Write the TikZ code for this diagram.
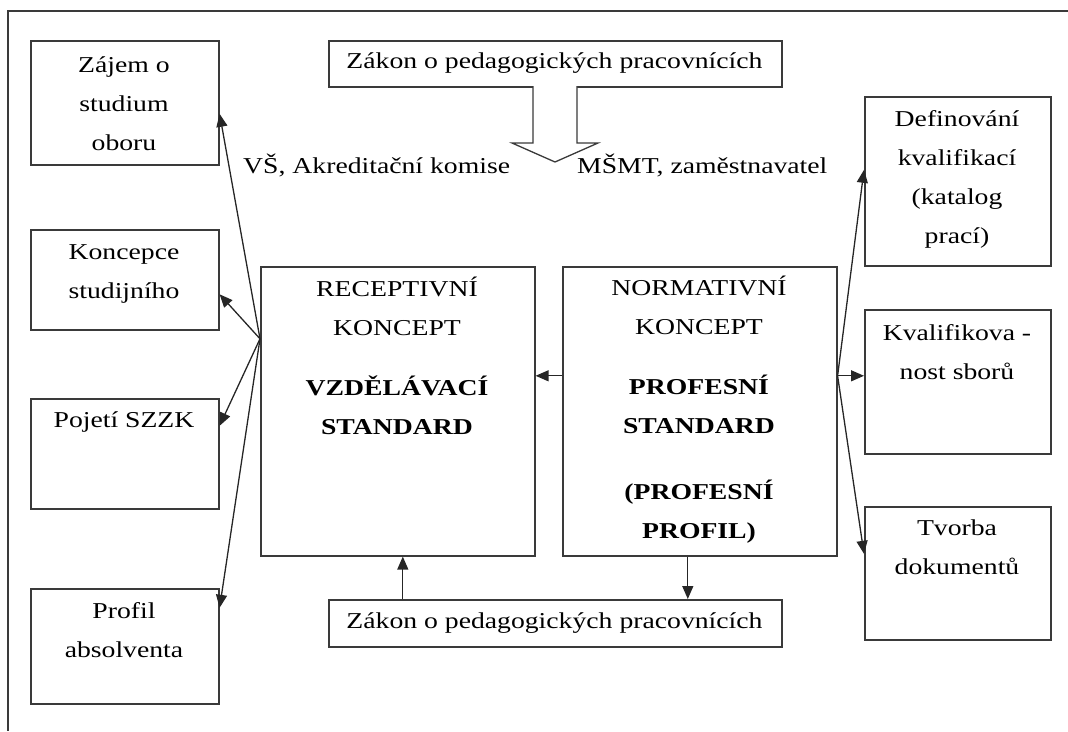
\documentclass[tikz,border=0pt]{standalone}
\usepackage{fontspec}
\setmainfont[FakeStretch=1.22]{Liberation Serif}
\usetikzlibrary{arrows.meta}
\definecolor{linegray}{HTML}{3A3A3A}
\begin{document}
\begin{tikzpicture}[x=1pt,y=-1pt,
  box/.style={draw=linegray, line width=1.6pt, rectangle, inner sep=0pt, anchor=north west},
  txt/.style={inner sep=0pt, align=center, text=black, font=\fontsize{22.7}{39}\selectfont},
  arr/.style={draw=black!85, line width=1.3pt, -{Triangle[length=13pt,width=11pt]}}]
\useasboundingbox (0,0) rectangle (1068,731);

% outer frame (top and left sides)
\draw[draw=linegray, line width=1.6pt] (1068,11) -- (8,11) -- (8,731);

% left column
\node[box, minimum width=188pt, minimum height=124pt] (zajem) at (30,40) {};
\node[box, minimum width=188pt, minimum height=100pt] (koncepce) at (30,229) {};
\node[box, minimum width=188pt, minimum height=110pt] (pojeti) at (30,398) {};
\node[box, minimum width=188pt, minimum height=115pt] (profil) at (30,588) {};

% central blocks
\node[box, minimum width=274pt, minimum height=289pt] (recept) at (260,266) {};
\node[box, minimum width=274pt, minimum height=289pt] (normat) at (562,266) {};

% law boxes
\node[box, minimum width=453pt, minimum height=46pt] (zakonTop) at (328,40) {};
\node[box, minimum width=453pt, minimum height=47pt] (zakonBot) at (328,599) {};

% right column
\node[box, minimum width=186pt, minimum height=169pt] (defin) at (864,96) {};
\node[box, minimum width=186pt, minimum height=144pt] (kvalif) at (864,309) {};
\node[box, minimum width=186pt, minimum height=133pt] (tvorba) at (864,506) {};

% texts (anchored at the baseline of their last line)
\node[txt, anchor=base] (zajemT) at (124,150) {Zájem o\\studium\\oboru};
\node[txt, anchor=base] (koncepceT) at (124,298) {Koncepce\\studijního};
\node[txt, anchor=base] (pojetiT) at (124,427) {Pojetí SZZK};
\node[txt, anchor=base] (profilT) at (124,657) {Profil\\absolventa};
\node[txt, anchor=base] (receptT) at (397,434) {RECEPTIVNÍ\\KONCEPT\\[21pt]\textbf{VZDĚLÁVACÍ}\\\textbf{STANDARD}};
\node[txt, anchor=base] (normatT) at (699,538) {NORMATIVNÍ\\KONCEPT\\[21pt]\textbf{PROFESNÍ}\\\textbf{STANDARD}\\[27pt]\textbf{(PROFESNÍ}\\\textbf{PROFIL)}};
\node[txt, anchor=base] (zakonTopT) at (554.5,68) {Zákon o pedagogických pracovnících};
\node[txt, anchor=base] (zakonBotT) at (554.5,628) {Zákon o pedagogických pracovnících};
\node[txt, anchor=base] (definT) at (957,243) {Definování\\kvalifikací\\(katalog\\prací)};
\node[txt, anchor=base] (kvalifT) at (957,379) {Kvalifikova -\\nost sborů};
\node[txt, anchor=base] (tvorbaT) at (957,574) {Tvorba\\dokumentů};
\node[txt, anchor=base west] (vs) at (243,173) {VŠ, Akreditační komise};
\node[txt, anchor=base west] (msmt) at (577,173) {MŠMT, zaměstnavatel};

% hollow block arrow below the upper law box
\draw[draw=linegray, line width=1.3pt, fill=white]
  (533,86) -- (533,143) -- (512,143) -- (555,162) -- (598,143) -- (577,143) -- (577,86);

% fan from the receptive concept
\coordinate (fanL) at ([yshift=72.5pt]recept.west);
\draw[arr] (fanL) -- ([yshift=-11pt]zajem.east);
\draw[arr] (fanL) -- ([yshift=-14.5pt]koncepce.east);
\draw[arr] (fanL) -- ([yshift=28pt]pojeti.east);
\draw[arr] (fanL) -- ([yshift=38.5pt]profil.east);

% fan from the normative concept
\coordinate (fanR) at ([yshift=35.5pt]normat.east);
\draw[arr] (fanR) -- ([yshift=11.5pt]defin.west);
\draw[arr] (fanR) -- ([yshift=6pt]kvalif.west);
\draw[arr] (fanR) -- ([yshift=19.5pt]tvorba.west);

% normative -> receptive
\draw[arr] ([yshift=35.5pt]normat.west) -- ([yshift=35.5pt]recept.east);

% lower law box links
\draw[arr] ([xshift=-152.5pt]zakonBot.north) -- ([xshift=-152.5pt]zakonBot.north |- recept.south);
\draw[arr] ([xshift=132.5pt]zakonBot.north |- normat.south) -- ([xshift=132.5pt]zakonBot.north);
\end{tikzpicture}
\end{document}
